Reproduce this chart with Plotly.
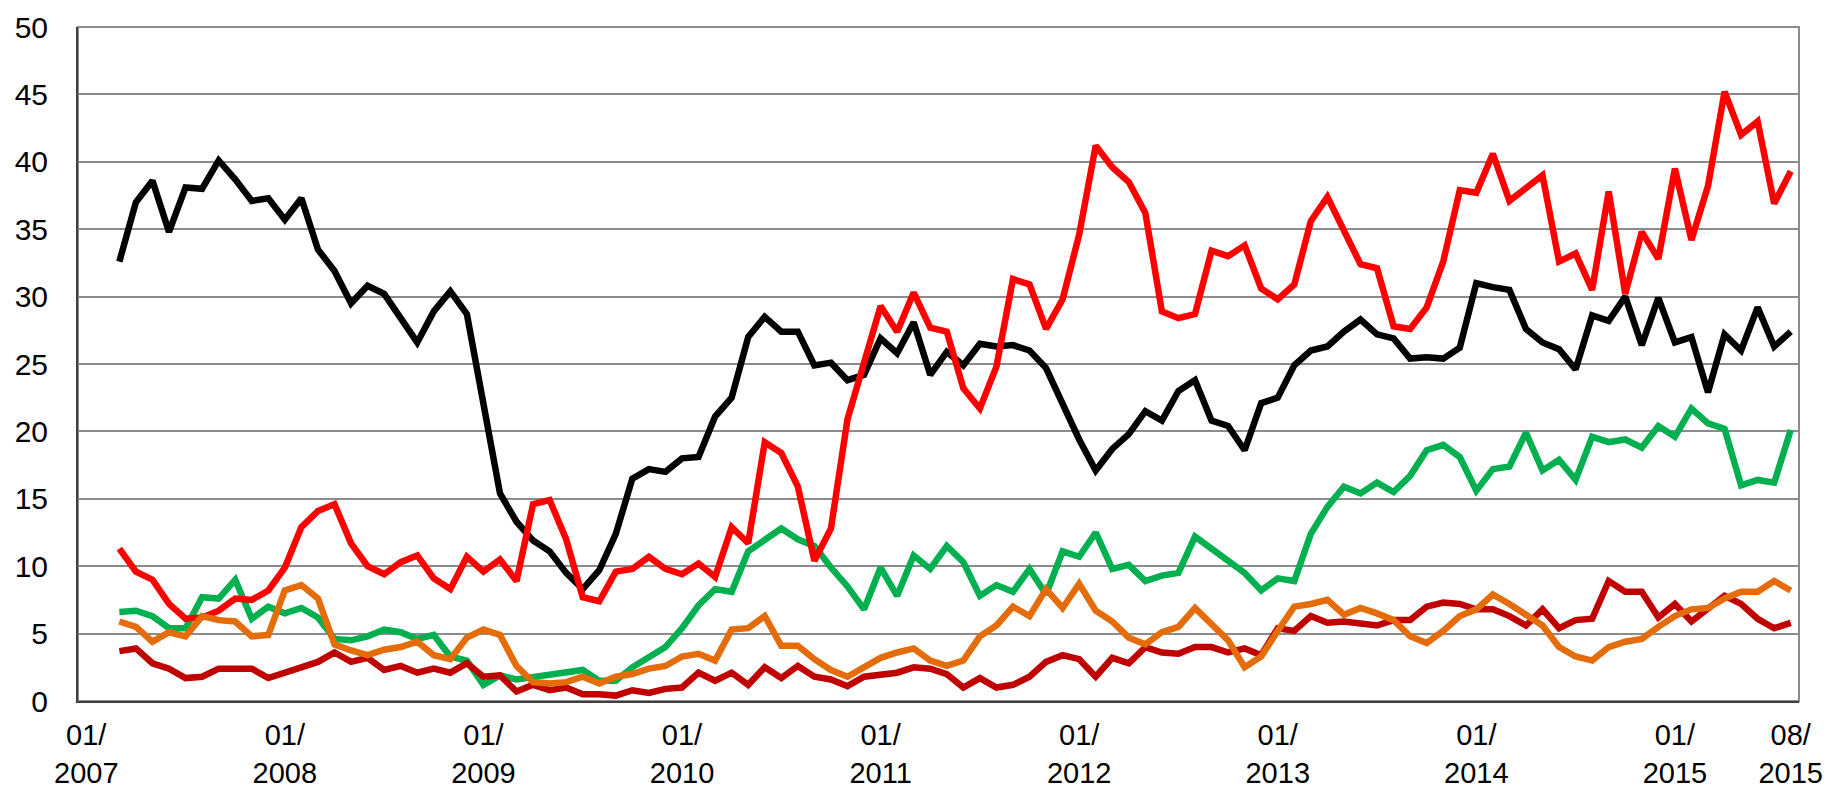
import pandas as pd
import plotly.graph_objects as go

# All month categories on the axis (01/2007 .. 08/2015)
all_months = [d.strftime("%m/%Y") for d in pd.date_range("2007-01-01", "2015-08-01", freq="MS")]
# Months that carry data (03/2007 .. 08/2015)
data_months = [d.strftime("%m/%Y") for d in pd.date_range("2007-03-01", "2015-08-01", freq="MS")]

black_vals = [
    32.6, 37.0, 38.6, 34.8, 38.1, 38.0, 40.1, 38.7, 37.1, 37.3, 35.7, 37.3, 33.5, 31.9, 29.5, 30.8,
    30.2, 28.5, 26.6, 28.9, 30.4, 28.7, 22.0, 15.4, 13.3, 11.9, 11.1, 9.5, 8.3, 9.7, 12.4, 16.5, 17.2,
    17.0, 18.0, 18.1, 21.1, 22.5, 27.0, 28.5, 27.4, 27.4, 24.9, 25.1, 23.8, 24.2, 26.9, 25.8, 28.1, 24.2, 25.9,
    24.9, 26.5, 26.3, 26.4, 26.0, 24.7, 22.1, 19.4, 17.1, 18.7, 19.8, 21.5, 20.8, 23.0, 23.8, 20.8, 20.4,
    18.6, 22.1, 22.5, 24.9, 26.0, 26.3, 27.4, 28.3, 27.2, 26.9, 25.4, 25.5, 25.4, 26.2, 31.0, 30.7, 30.5, 27.6,
    26.6, 26.1, 24.6, 28.6, 28.2, 30.0, 26.4, 29.9, 26.6, 27.0, 22.9, 27.2, 26.0, 29.2, 26.3, 27.4,
]
red_vals = [
    11.3, 9.6, 9.0, 7.2, 6.1, 6.2, 6.7, 7.6, 7.5, 8.2, 9.9, 12.9, 14.1, 14.6, 11.7, 10.0,
    9.4, 10.3, 10.8, 9.1, 8.3, 10.7, 9.6, 10.5, 8.9, 14.6, 14.9, 12.0, 7.7, 7.4, 9.6, 9.8, 10.7,
    9.8, 9.4, 10.2, 9.2, 12.9, 11.7, 19.2, 18.4, 15.9, 10.4, 12.8, 20.9, 25.0, 29.3, 27.4, 30.3, 27.7, 27.4,
    23.2, 21.7, 24.8, 31.3, 30.9, 27.6, 29.8, 34.6, 41.2, 39.6, 38.5, 36.2, 28.9, 28.4, 28.7, 33.4, 33.0,
    33.8, 30.6, 29.8, 30.9, 35.6, 37.4, 34.8, 32.4, 32.1, 27.8, 27.6, 29.2, 32.6, 37.9, 37.7, 40.6, 37.1, 38.0,
    39.0, 32.6, 33.2, 30.5, 37.8, 30.2, 34.8, 32.8, 39.5, 34.2, 38.2, 45.2, 42.0, 43.0, 36.9, 39.3,
]
green_vals = [
    6.6, 6.7, 6.3, 5.4, 5.4, 7.7, 7.6, 9.0, 6.1, 7.0, 6.5, 6.9, 6.2, 4.6, 4.5, 4.8,
    5.3, 5.1, 4.6, 4.9, 3.3, 3.0, 1.2, 1.9, 1.6, 1.8, 2.0, 2.1, 2.3, 1.5, 1.5, 2.5, 3.3,
    4.0, 5.4, 7.1, 8.3, 8.1, 11.1, 12.0, 12.8, 12.0, 11.5, 9.9, 8.5, 6.8, 9.9, 7.8, 10.8, 9.8, 11.5,
    10.3, 7.8, 8.6, 8.1, 9.8, 7.9, 11.1, 10.7, 12.5, 9.8, 10.1, 8.9, 9.3, 9.5, 12.2, 11.3, 10.5,
    9.5, 8.2, 9.1, 8.9, 12.4, 14.4, 15.9, 15.4, 16.2, 15.5, 16.7, 18.6, 19.0, 18.1, 15.6, 17.2, 17.4, 19.9,
    17.1, 17.9, 16.4, 19.6, 19.2, 19.4, 18.8, 20.4, 19.6, 21.7, 20.6, 20.2, 16.0, 16.4, 16.2, 20.1,
]
orange_vals = [
    5.9, 5.5, 4.4, 5.1, 4.8, 6.3, 6.0, 5.9, 4.8, 4.9, 8.2, 8.6, 7.6, 4.2, 3.75, 3.4,
    3.8, 4.0, 4.4, 3.4, 3.1, 4.7, 5.3, 4.9, 2.6, 1.4, 1.3, 1.4, 1.8, 1.3, 1.8, 2.0, 2.4,
    2.6, 3.3, 3.5, 3.0, 5.3, 5.4, 6.3, 4.1, 4.1, 3.1, 2.3, 1.8, 2.5, 3.2, 3.6, 3.9, 3.0, 2.6,
    3.0, 4.8, 5.6, 7.0, 6.3, 8.3, 6.9, 8.7, 6.7, 5.9, 4.7, 4.2, 5.1, 5.5, 6.9, 5.7, 4.5,
    2.5, 3.3, 5.2, 7.0, 7.2, 7.5, 6.4, 6.9, 6.5, 6.0, 4.8, 4.3, 5.2, 6.3, 6.8, 7.9, 7.2, 6.4,
    5.6, 4.0, 3.3, 3.0, 4.0, 4.4, 4.6, 5.5, 6.3, 6.8, 6.9, 7.6, 8.1, 8.1, 8.9, 8.2,
]
darkred_vals = [
    3.7, 3.9, 2.8, 2.4, 1.7, 1.8, 2.4, 2.4, 2.4, 1.7, 2.1, 2.6, 2.9, 3.6, 2.9, 3.2,
    2.3, 2.6, 2.1, 2.4, 2.1, 2.8, 1.8, 1.9, 0.7, 1.2, 0.8, 1.0, 0.5, 0.5, 0.4, 0.8, 0.6,
    0.9, 1.0, 2.1, 1.5, 2.1, 1.2, 2.5, 1.7, 2.6, 1.8, 1.6, 1.1, 1.8, 1.9, 2.1, 2.5, 2.4, 2.0,
    1.0, 1.7, 1.0, 1.2, 1.8, 2.9, 3.4, 3.1, 1.8, 3.2, 2.8, 4.0, 3.6, 3.5, 4.0, 4.0, 3.6,
    3.9, 3.4, 5.4, 5.2, 6.3, 5.8, 5.9, 5.7, 5.6, 6.0, 6.0, 7.0, 7.3, 7.2, 6.8, 6.8, 6.3, 5.6,
    6.8, 5.4, 6.0, 6.1, 8.9, 8.1, 8.1, 6.2, 7.2, 5.9, 6.8, 7.8, 7.2, 6.1, 5.4, 5.8,
]

tick_months = ["01/2007", "01/2008", "01/2009", "01/2010", "01/2011", "01/2012",
               "01/2013", "01/2014", "01/2015", "08/2015"]
tick_texts = [m.replace("/", "/<br>") for m in tick_months]

series = [
    ("green", green_vals, "#00B050"),
    ("black", black_vals, "#000000"),
    ("red", red_vals, "#FF0000"),
    ("darkred", darkred_vals, "#C00000"),
    ("orange", orange_vals, "#E46C0A"),
]

fig = go.Figure()
for name, vals, col in series:
    fig.add_trace(go.Scatter(x=data_months, y=vals, mode="lines", name=name,
                             line=dict(color=col, width=6.5), showlegend=False))

yfont = dict(family="Liberation Sans, Arial, sans-serif", size=30, color="#000000")
xfont = dict(family="Liberation Sans, Arial, sans-serif", size=29, color="#000000")
# The page body adds an 8px offset at left/top, so the figure is 8px smaller.
fig.update_layout(
    width=1823, height=781,
    margin=dict(l=70, r=32, t=19, b=88, autoexpand=False),
    paper_bgcolor="white", plot_bgcolor="white",
    font=yfont,
    xaxis=dict(type="category", categoryorder="array", categoryarray=all_months,
               range=[-0.5, len(all_months) - 0.5], automargin=False,
               tickmode="array", tickvals=tick_months, ticktext=tick_texts,
               showgrid=False, showline=True, linecolor="#404040", linewidth=2,
               ticks="", tickfont=xfont, ticklabelstandoff=7, zeroline=False, mirror=False),
    yaxis=dict(range=[0, 50], dtick=5, tick0=0, showgrid=True, gridcolor="#8c8c8c", gridwidth=1.5,
               showline=True, linecolor="#404040", linewidth=2, ticks="", automargin=False,
               ticklabelstandoff=22, tickfont=yfont, zeroline=False),
)
fig.add_shape(type="rect", xref="paper", yref="paper", x0=0, y0=0, x1=1, y1=1,
              line=dict(color="#8c8c8c", width=2), layer="below")
fig.write_html("out.html")
